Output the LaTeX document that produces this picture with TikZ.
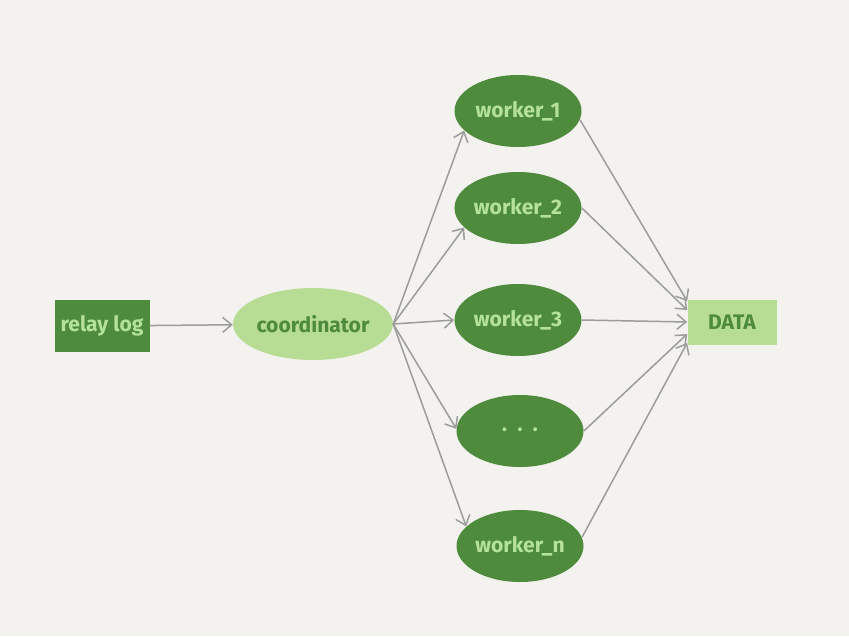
\documentclass[tikz,border=0pt]{standalone}
\usepackage{fontspec}
\setmainfont{Fira Sans}
\usetikzlibrary{arrows.meta,shapes.geometric}
\definecolor{bgpaper}{HTML}{F3F2EE}
\definecolor{darkleaf}{HTML}{4E8B3D}
\definecolor{lightleaf}{HTML}{B7DC94}
\definecolor{leaftext}{HTML}{B3E298}
\definecolor{wire}{HTML}{9C9C9C}
\begin{document}
\begin{tikzpicture}[>={Straight Barb[length=1.8mm,width=3mm]},
    font=\fontsize{12}{14}\selectfont\bfseries,
    darkbox/.style={rectangle, fill=darkleaf, text=leaftext, inner sep=0pt, minimum width=1.9cm, minimum height=1.04cm},
    lightbox/.style={rectangle, fill=lightleaf, text=darkleaf, inner sep=0pt, minimum width=1.78cm, minimum height=0.9cm},
    worker/.style={ellipse, fill=darkleaf, text=leaftext, inner sep=0pt, minimum width=2.54cm, minimum height=1.44cm},
    link/.style={->, draw=wire, line width=0.85pt}]
        \fill[bgpaper] (0, 0) rectangle (16.98, 12.72);
        \useasboundingbox (0, 0) rectangle (16.98, 12.72);

        \node[darkbox] (relay) at (2.04, 6.20) {relay log};
        \node[ellipse, fill=lightleaf, text=darkleaf, inner sep=0pt,
              minimum width=3.16cm, minimum height=1.44cm] (coord) at (6.26, 6.24) {coordinator};
        \node[lightbox] (data) at (14.64, 6.28) {DATA};

        \node[worker] (w1) at (10.36, 10.50) {worker\_1};
        \node[worker] (w2) at (10.36, 8.56) {worker\_2};
        \node[worker] (w3) at (10.36, 6.32) {worker\_3};
        \node[worker] (w4) at (10.40, 4.10) {\fontsize{8}{8}\selectfont •\hspace{6pt}•\hspace{6pt}•};
        \node[worker] (wn) at (10.40, 1.80) {worker\_n};

        \draw[link] (relay) -- (coord);

        \draw[link] (coord.east) -- (w1.200);
        \draw[link] (coord.east) -- (w2.200);
        \draw[link] (coord.east) -- (w3.west);
        \draw[link] (coord.east) -- (w4.178);
        \draw[link] (coord.east) -- (wn.160);

        \draw[link] (w1.-8) -- (data.155);
        \draw[link] (w2.east) -- (data.165);
        \draw[link] (w3.east) -- (data.west);
        \draw[link] (w4.east) -- (data.195);
        \draw[link] (wn.8) -- (data.205);
      \end{tikzpicture}
\end{document}
